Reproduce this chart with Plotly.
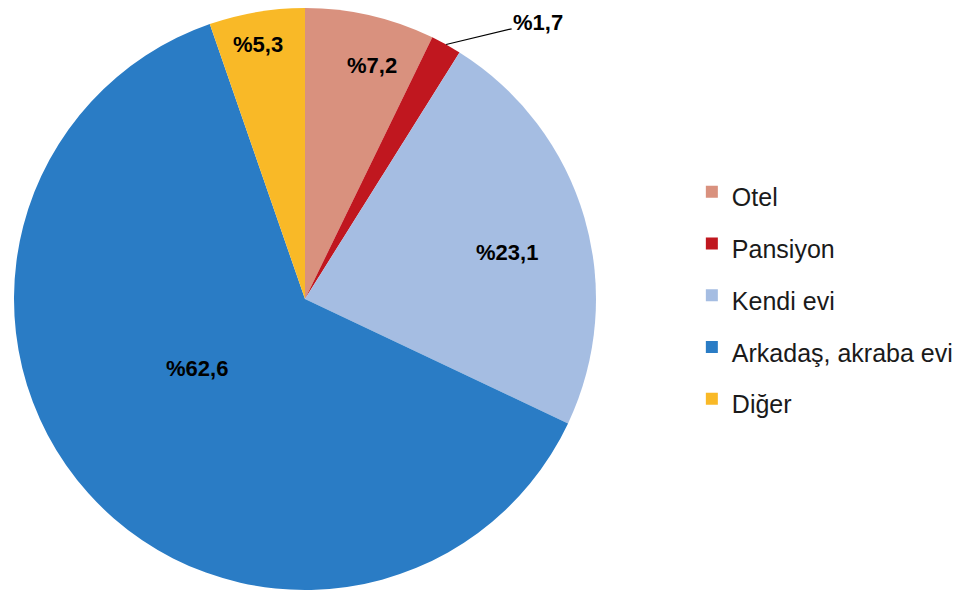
import math
import plotly.graph_objects as go

labels = ["Otel", "Pansiyon", "Kendi evi", "Arkadaş, akraba evi", "Diğer"]
values = [7.2, 1.7, 23.1, 62.6, 5.3]
text_labels = ["%7,2", "%1,7", "%23,1", "%62,6", "%5,3"]
colors = ["#D9917E", "#C0171F", "#A5BDE2", "#2A7CC5", "#F9B927"]
# label placement style: radial fraction of radius, angular nudge (deg)
label_radius = [0.833, None, 0.713, 0.442, 0.888]
label_nudge = [3, 0, 3.3, 9.1, -1]

W, H = 970, 596
OFF = 8  # page body margin
R = 291
cx, cy = 305 - OFF, R
dom_x = [(cx - R) / W, (cx + R) / W]
dom_y = [max(0, (H - cy - R) / H), min(1, (H - cy + R) / H)]

legend_labels = [f'<span style="font-size:25px">{l}</span>' for l in labels]

fig = go.Figure(go.Pie(
    labels=legend_labels, values=values, sort=False, direction="clockwise", rotation=0,
    marker=dict(colors=colors, line=dict(width=0)),
    textinfo="none", hoverinfo="percent",
    domain=dict(x=dom_x, y=dom_y),
))

total = sum(values)
cum = 0
lab_font = dict(family="Liberation Sans, Arial", size=22, color="#000000")
for i, v in enumerate(values):
    mid = (cum + v / 2) / total * 360
    cum += v
    if label_radius[i] is None:
        th = math.radians(mid)
        px = cx + R * math.sin(th)
        py = cy - R * math.cos(th)
        fig.add_annotation(x=px / W, y=(H - py) / H, xref="paper", yref="paper",
                           text=f"<b>{text_labels[i]}</b>", showarrow=True,
                           arrowhead=0, arrowwidth=1.2, arrowcolor="#000000",
                           ax=92, ay=-22, standoff=0, font=lab_font)
        continue
    th = math.radians(mid + label_nudge[i])
    f = label_radius[i]
    px = cx + R * f * math.sin(th)
    py = cy - R * f * math.cos(th)
    fig.add_annotation(x=px / W, y=(H - py) / H, xref="paper", yref="paper",
                       xanchor="center", yanchor="middle",
                       text=f"<b>{text_labels[i]}</b>", showarrow=False, font=lab_font)

fig.update_layout(
    width=W, height=H,
    margin=dict(l=0, r=0, t=0, b=0),
    paper_bgcolor="white", plot_bgcolor="white",
    showlegend=True,
    legend=dict(x=0.705, y=0.518, xanchor="left", yanchor="middle",
                font=dict(family="Liberation Sans, Arial", size=37.5, color="#1a1a1a"),
                traceorder="normal"),
)
fig.write_html("out.html")
